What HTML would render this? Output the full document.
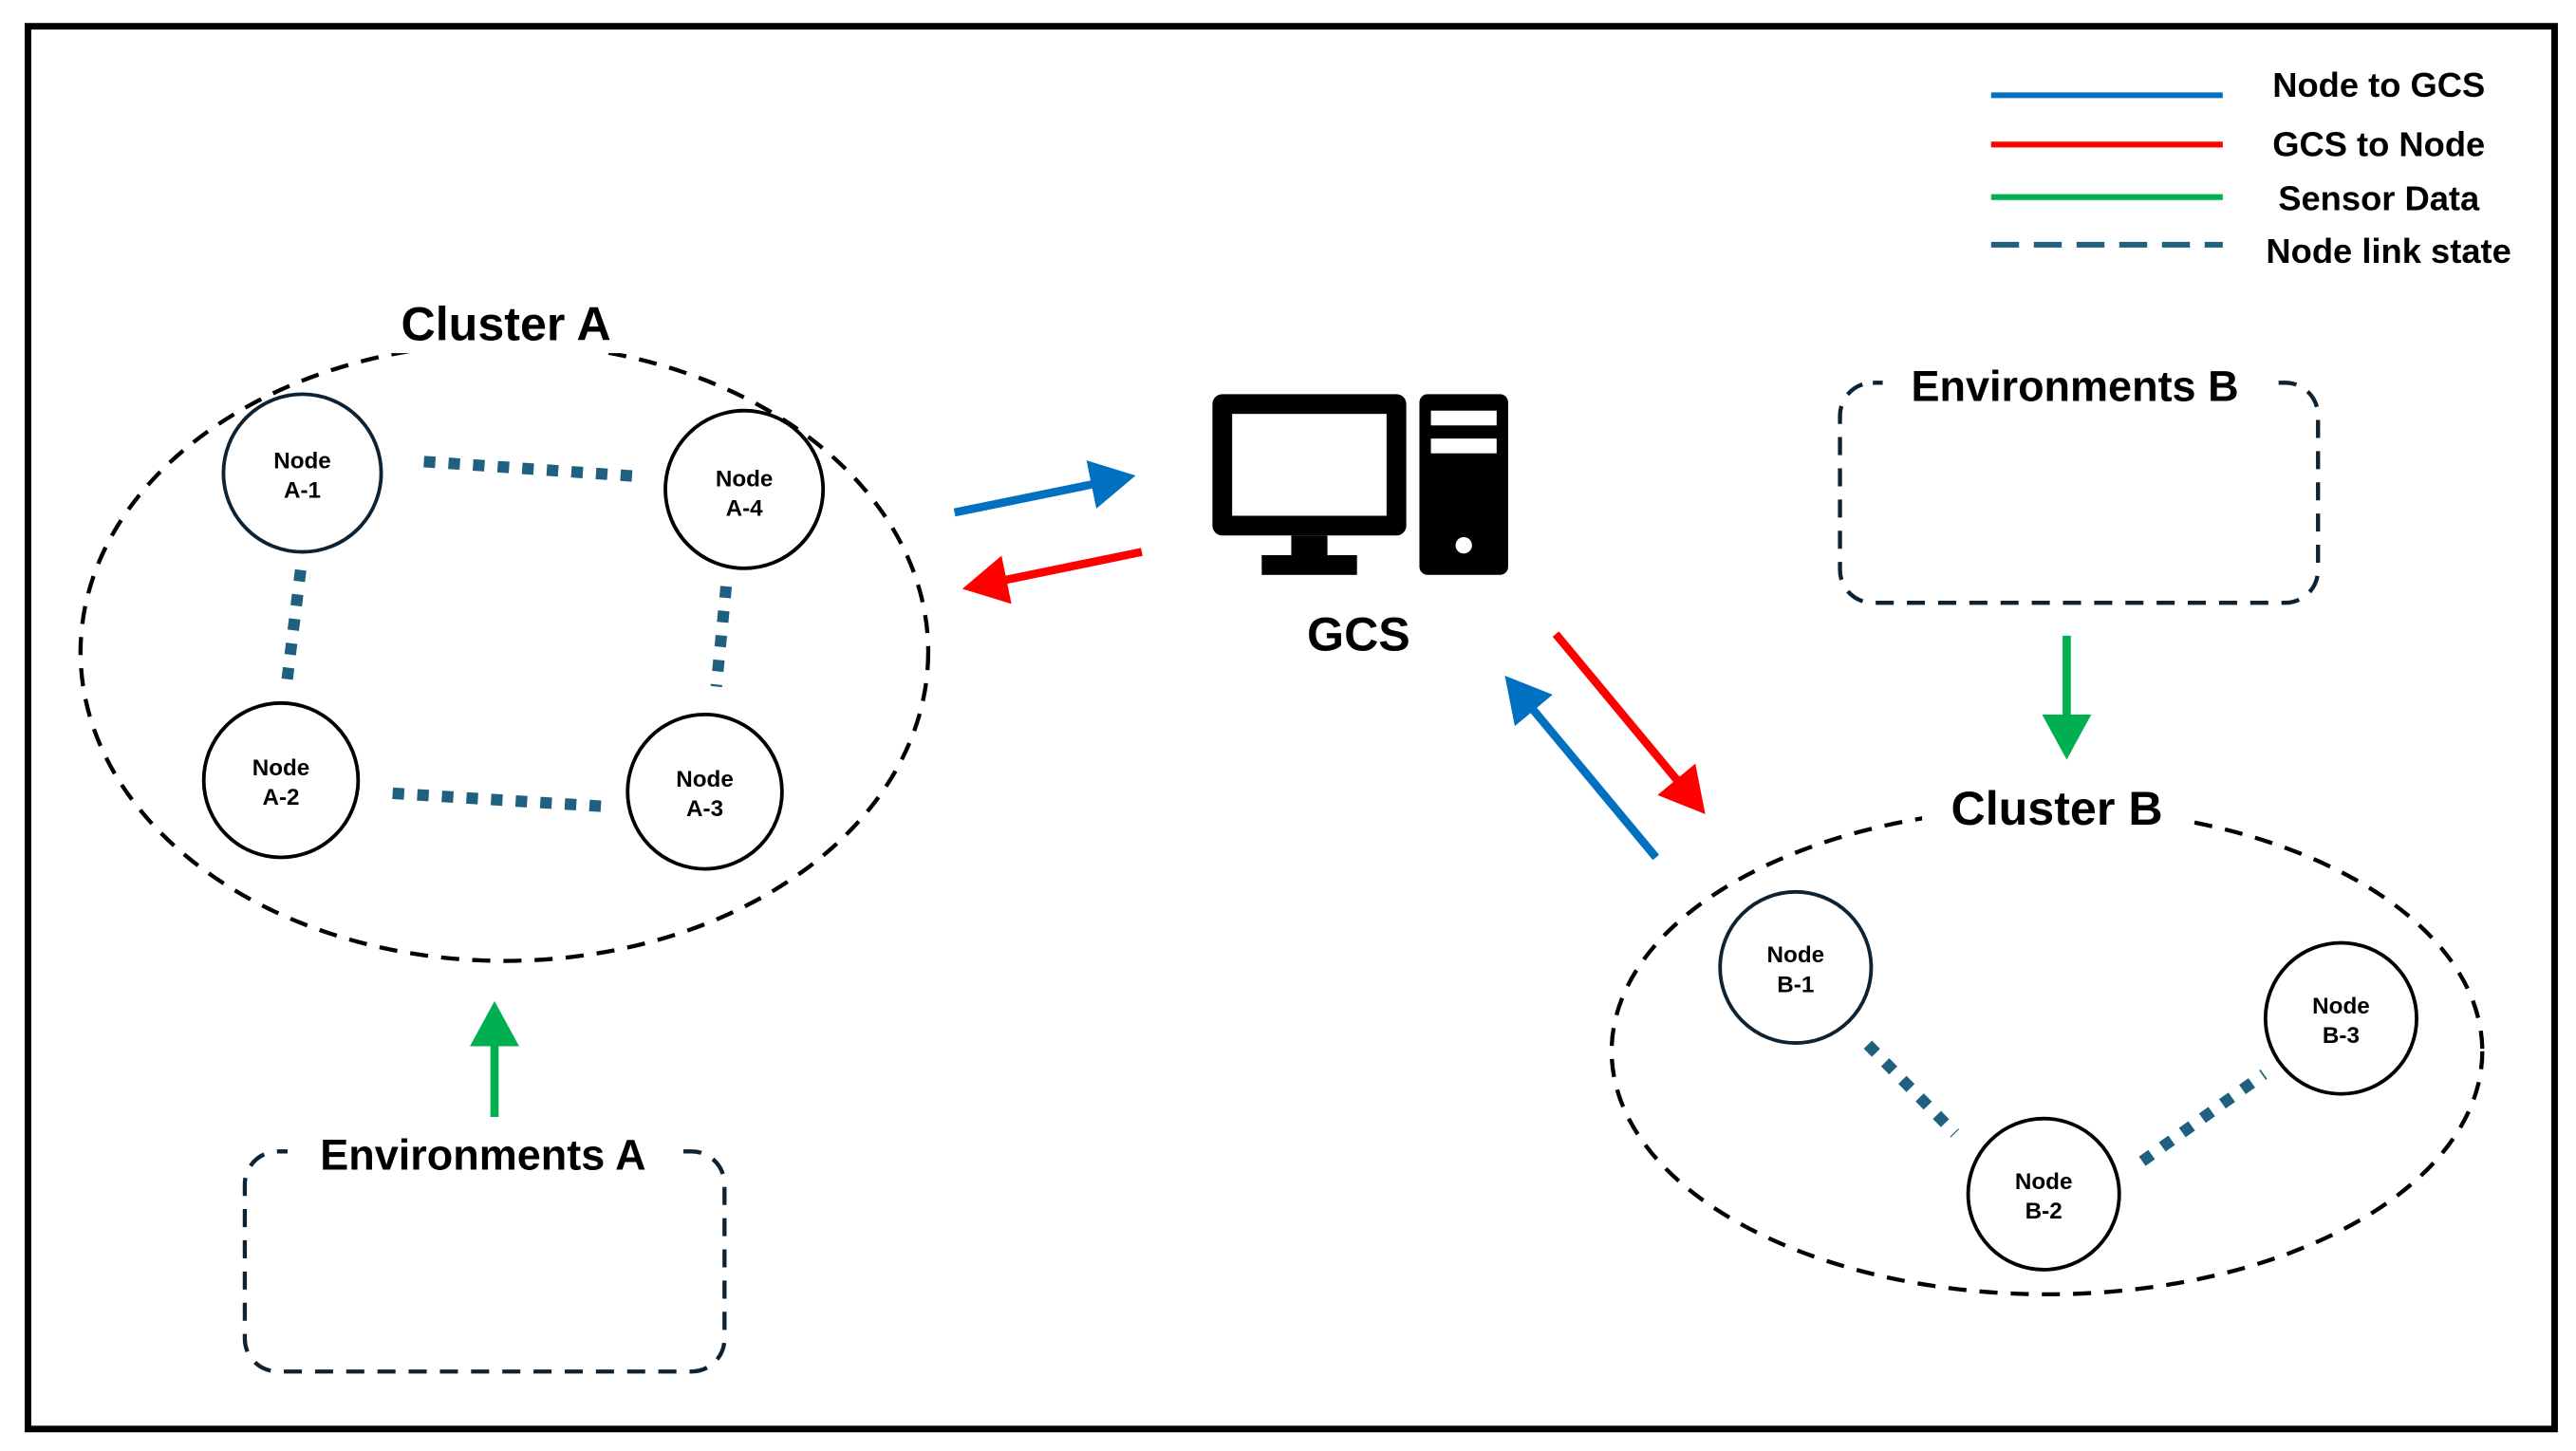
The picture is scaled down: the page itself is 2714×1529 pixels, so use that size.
<!DOCTYPE html>
<html><head><meta charset="utf-8"><style>
html,body{margin:0;padding:0;background:#fff}
svg{display:block}
text{font-family:"Liberation Sans","DejaVu Sans",sans-serif;font-weight:bold;fill:#000}
</style></head><body>
<svg width="2714" height="1529" viewBox="0 0 1568 883.4" xmlns="http://www.w3.org/2000/svg">
<defs>
<marker id="ab" markerWidth="7" markerHeight="7" refX="3" refY="3.5" orient="auto" markerUnits="strokeWidth"><path d="M0,0.5 L5.5,3.5 L0,6.5 z" fill="#0070c0"/></marker>
<marker id="ar" markerWidth="7" markerHeight="7" refX="3" refY="3.5" orient="auto" markerUnits="strokeWidth"><path d="M0,0.5 L5.5,3.5 L0,6.5 z" fill="#ff0000"/></marker>
<marker id="ag" markerWidth="7" markerHeight="7" refX="3" refY="3.5" orient="auto" markerUnits="strokeWidth"><path d="M0,0.5 L5.5,3.5 L0,6.5 z" fill="#00b050"/></marker>
</defs>
<rect x="17" y="16" width="1538" height="854" fill="none" stroke="#000" stroke-width="4"/>

<!-- legend -->
<g stroke-width="3.5">
<line x1="1212" y1="58" x2="1353" y2="58" stroke="#0070c0"/>
<line x1="1212" y1="88" x2="1353" y2="88" stroke="#ff0000"/>
<line x1="1212" y1="120" x2="1353" y2="120" stroke="#00b050"/>
<line x1="1212" y1="149" x2="1353" y2="149" stroke="#1f5f80" stroke-dasharray="17,9"/>
</g>
<g font-size="21" text-anchor="middle">
<text x="1448" y="59">Node to GCS</text>
<text x="1448" y="95">GCS to Node</text>
<text x="1448" y="128">Sensor Data</text>
<text x="1454" y="160">Node link state</text>
</g>

<!-- Cluster A -->
<ellipse cx="307" cy="397" rx="258" ry="188" fill="none" stroke="#000" stroke-width="2.5" stroke-dasharray="11,8"/>
<rect x="210" y="170" width="188" height="45" fill="#fff"/>
<text x="308" y="207" font-size="29" text-anchor="middle">Cluster A</text>
<g stroke="#1f5f80" stroke-width="7" stroke-dasharray="7,8">
<line x1="258" y1="281" x2="388" y2="290"/>
<line x1="183" y1="347" x2="174" y2="420"/>
<line x1="442" y1="357" x2="436" y2="418"/>
<line x1="239" y1="483" x2="368" y2="491"/>
</g>
<g fill="#fff" stroke="#000" stroke-width="2.2">
<circle cx="184" cy="288" r="48" stroke="#0d2233"/>
<circle cx="453" cy="298" r="48"/>
<circle cx="171" cy="475" r="47"/>
<circle cx="429" cy="482" r="47"/>
</g>
<g font-size="14" text-anchor="middle">
<text x="184" y="285">Node</text><text x="184" y="303">A-1</text>
<text x="453" y="296">Node</text><text x="453" y="314">A-4</text>
<text x="171" y="472">Node</text><text x="171" y="490">A-2</text>
<text x="429" y="479">Node</text><text x="429" y="497">A-3</text>
</g>

<!-- Env A -->
<rect x="149" y="701" width="292" height="134" rx="20" fill="none" stroke="#0d2233" stroke-width="2.5" stroke-dasharray="11,8"/>
<rect x="175" y="682" width="240" height="32" fill="#fff"/>
<text x="294" y="712" font-size="26" text-anchor="middle">Environments A</text>
<line x1="301" y1="680" x2="301" y2="622" stroke="#00b050" stroke-width="5" marker-end="url(#ag)"/>

<!-- arrows A-GCS -->
<line x1="581" y1="312" x2="679" y2="292" stroke="#0070c0" stroke-width="5" marker-end="url(#ab)"/>
<line x1="695" y1="336" x2="598" y2="356" stroke="#ff0000" stroke-width="5" marker-end="url(#ar)"/>

<!-- GCS icon -->
<rect x="738" y="240" width="118" height="86" rx="6" fill="#000"/>
<rect x="750" y="252" width="94" height="62" fill="#fff"/>
<rect x="786" y="326" width="22" height="14" fill="#000"/>
<rect x="768" y="338" width="58" height="12" fill="#000"/>
<rect x="864" y="240" width="54" height="110" rx="5" fill="#000"/>
<rect x="871" y="250" width="40" height="9" fill="#fff"/>
<rect x="871" y="267" width="40" height="9" fill="#fff"/>
<circle cx="891" cy="332" r="5" fill="#fff"/>
<text x="827" y="396" font-size="29" text-anchor="middle">GCS</text>

<!-- Env B -->
<rect x="1120" y="233" width="291" height="134" rx="20" fill="none" stroke="#0d2233" stroke-width="2.5" stroke-dasharray="11,8"/>
<rect x="1146" y="214" width="236" height="32" fill="#fff"/>
<text x="1263" y="244" font-size="26" text-anchor="middle">Environments B</text>
<line x1="1258" y1="387" x2="1258" y2="450" stroke="#00b050" stroke-width="5" marker-end="url(#ag)"/>

<!-- Cluster B -->
<ellipse cx="1246" cy="640" rx="265" ry="148" fill="none" stroke="#000" stroke-width="2.5" stroke-dasharray="11,8"/>
<rect x="1170" y="470" width="162" height="38" fill="#fff"/>
<text x="1252" y="502" font-size="29" text-anchor="middle">Cluster B</text>
<g stroke="#1f5f80" stroke-width="7" stroke-dasharray="7,8">
<line x1="1137" y1="636" x2="1190" y2="690"/>
<line x1="1304" y1="707" x2="1378" y2="654"/>
</g>
<g fill="#fff" stroke="#0d2233" stroke-width="2.2">
<circle cx="1093" cy="589" r="46"/>
<circle cx="1244" cy="727" r="46" stroke="#000"/>
<circle cx="1425" cy="620" r="46" stroke="#000"/>
</g>
<g font-size="14" text-anchor="middle">
<text x="1093" y="586">Node</text><text x="1093" y="604">B-1</text>
<text x="1244" y="724">Node</text><text x="1244" y="742">B-2</text>
<text x="1425" y="617">Node</text><text x="1425" y="635">B-3</text>
</g>

<!-- arrows GCS-B -->
<line x1="947" y1="386" x2="1030" y2="486" stroke="#ff0000" stroke-width="5" marker-end="url(#ar)"/>
<line x1="1008" y1="522" x2="924" y2="421" stroke="#0070c0" stroke-width="5" marker-end="url(#ab)"/>
</svg>
</body></html>
